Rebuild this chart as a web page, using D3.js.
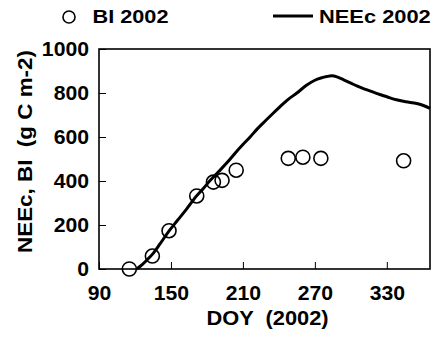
<!DOCTYPE html>
<html><head><meta charset="utf-8">
<script src="https://cdn.jsdelivr.net/npm/d3@7"></script>
<style>
body{margin:0;background:#fff;}
text{font-family:"Liberation Sans",Arial,sans-serif;font-weight:bold;fill:#000;white-space:pre;}
</style></head>
<body><svg id="c" width="438" height="342"></svg>
<script>
const neeDoy = [121.5,126,130,135,141,148,155,163,171,177,183,190,197,204,210,216,222,229,235,241,247,255,263,270,275,280,284,289,294,300,305,313,322,330,338,346,355,361,366];
const neeVal = [0,20,41,70,115,170,218,272,330,366,404,444,485,530,566,600,637,675,707,738,768,800,835,858,868,875,878,872,860,845,832,815,797,783,769,760,752,742,730];
const biDoy = [115.3,134.5,148.4,171.5,185.4,192.6,204.4,247.8,260,275,344];
const biVal = [0,59,174,332,395,403,449,503,508,503,492];
const xTicks = [90,150,210,270,330];
const yTicks = [0,200,400,600,800,1000];

const L=99,R=430,T=49,B=269;
const svg=d3.select("#c");
const x=d3.scaleLinear().domain([90,366]).range([L,R]);
const y=d3.scaleLinear().domain([0,1000]).range([B,T]);

function stretch(sel,f){sel.each(function(){const w=this.getComputedTextLength();this.setAttribute("textLength",w*f);this.setAttribute("lengthAdjust","spacingAndGlyphs");});}

const gx=svg.append("g").attr("transform",`translate(0,${B})`)
 .call(d3.axisBottom(x).tickValues(xTicks).tickSizeInner(-7).tickSizeOuter(0).tickPadding(17).tickFormat(d3.format("d")));
gx.select(".domain").remove();
gx.selectAll("line").attr("stroke","#000").attr("stroke-width",1);
gx.selectAll("text").style("font-size","20px").attr("font-family",null);
stretch(gx.selectAll("text"),1.06);

const gy=svg.append("g").attr("transform",`translate(${L},0)`)
 .call(d3.axisLeft(y).tickValues(yTicks).tickSizeInner(-7).tickSizeOuter(0).tickPadding(10).tickFormat(d3.format("d")));
gy.select(".domain").remove();
gy.selectAll("line").attr("stroke","#000").attr("stroke-width",1);
gy.selectAll("text").style("font-size","20px").attr("font-family",null);
stretch(gy.selectAll("text"),1.06);

svg.append("rect").attr("x",L).attr("y",T).attr("width",R-L).attr("height",B-T)
 .attr("fill","none").attr("stroke","#000").attr("stroke-width",1.6);

const lineData=neeDoy.map((d,i)=>[d,neeVal[i]]);
svg.append("path").datum(lineData)
 .attr("d",d3.line().x(d=>x(d[0])).y(d=>y(d[1])).curve(d3.curveMonotoneX))
 .attr("fill","none").attr("stroke","#000").attr("stroke-width",3);

svg.append("g").selectAll("circle").data(biDoy.map((d,i)=>[d,biVal[i]])).join("circle")
 .attr("cx",d=>x(d[0])).attr("cy",d=>y(d[1])).attr("r",7)
 .attr("fill","none").attr("stroke","#000").attr("stroke-width",1.6);

// axis titles
const xt=svg.append("text").attr("x",(L+R)/2+3).attr("y",325).attr("text-anchor","middle").style("font-size","21px").text("DOY  (2002)");
stretch(xt,1.04);
const yt=svg.append("text").attr("transform","translate(32,151.5) rotate(-90)").attr("text-anchor","middle").style("font-size","21px").text("NEEc, BI  (g C m-2)");
yt.attr("textLength",203).attr("lengthAdjust","spacingAndGlyphs");

// legend
svg.append("circle").attr("cx",69).attr("cy",17).attr("r",6).attr("fill","none").attr("stroke","#000").attr("stroke-width",1.6);
const l1=svg.append("text").attr("x",92.5).attr("y",23.3).style("font-size","19px").text("BI 2002");
l1.attr("textLength",76).attr("lengthAdjust","spacingAndGlyphs");
svg.append("line").attr("x1",273).attr("x2",313).attr("y1",16).attr("y2",16).attr("stroke","#000").attr("stroke-width",3);
const l2=svg.append("text").attr("x",319).attr("y",22.7).style("font-size","19px").text("NEEc 2002");
stretch(l2,1.15);
</script></body></html>
